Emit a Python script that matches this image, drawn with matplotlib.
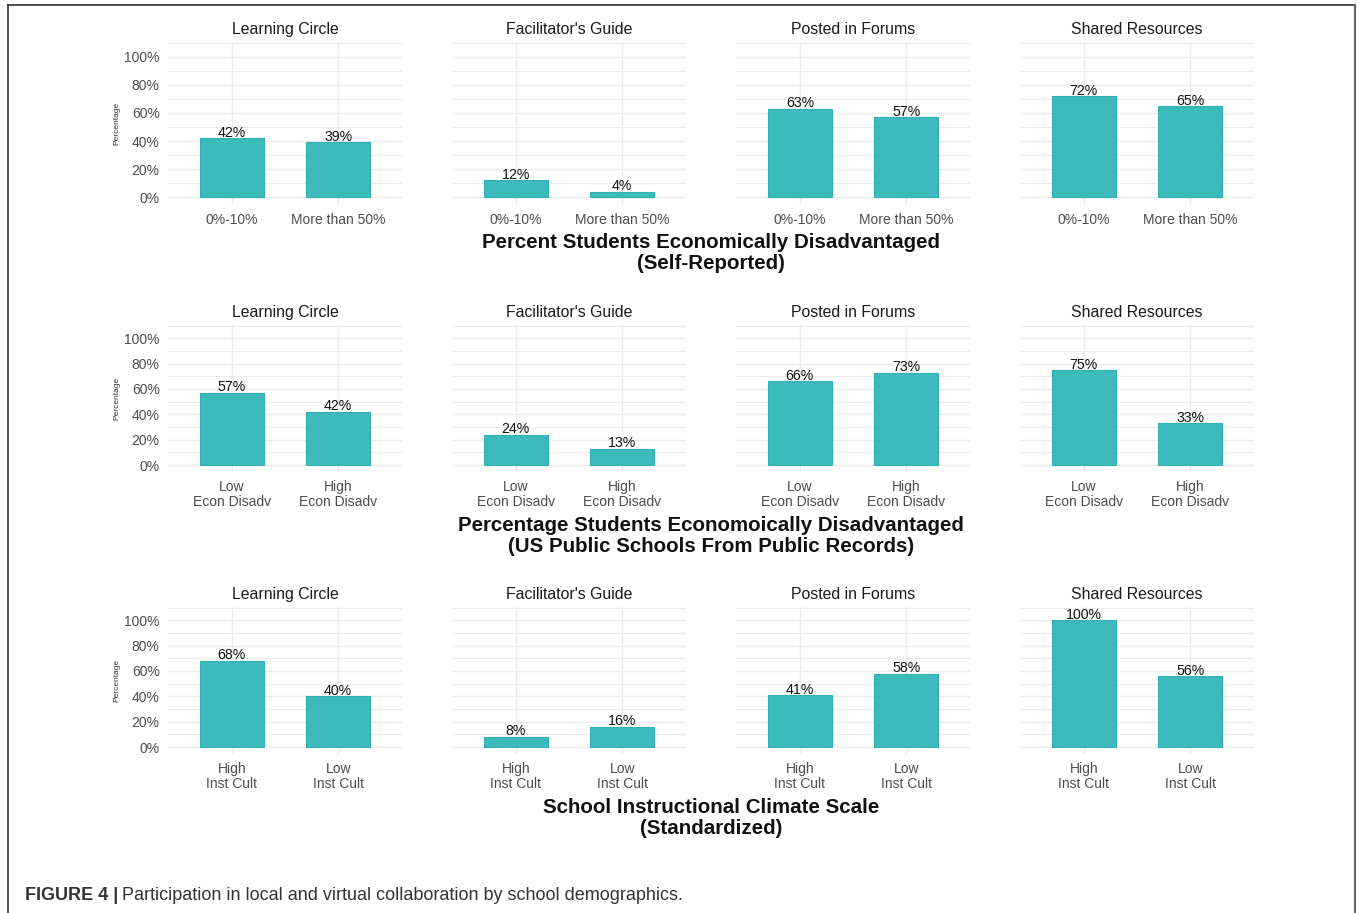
import numpy as np
import matplotlib
matplotlib.use("Agg")
import matplotlib.pyplot as plt
from matplotlib.lines import Line2D
from matplotlib.ticker import MultipleLocator, PercentFormatter

plt.rcParams['font.family'] = ['Liberation Sans', 'DejaVu Sans']

# Data (values in percent)
panels = ["Learning Circle", "Facilitator's Guide", "Posted in Forums", "Shared Resources"]

cats_self = ["0%-10%", "More than 50%"]
vals_self = [[42, 39], [12, 4], [63, 57], [72, 65]]

cats_public = ["Low\nEcon Disadv", "High\nEcon Disadv"]
vals_public = [[57, 42], [24, 13], [66, 73], [75, 33]]

cats_climate = ["High\nInst Cult", "Low\nInst Cult"]
vals_climate = [[68, 40], [8, 16], [41, 58], [100, 56]]

row_titles = ["Percent Students Economically Disadvantaged\n(Self-Reported)",
              "Percentage Students Economoically Disadvantaged\n(US Public Schools From Public Records)",
              "School Instructional Climate Scale\n(Standardized)"]

rows = [(cats_self, vals_self), (cats_public, vals_public), (cats_climate, vals_climate)]

W, H = 1357, 913
fig = plt.figure(figsize=(W / 100, H / 100), dpi=100)

bar_col = '#3DBBBC'
grid_col = '#EBEBEB'

# pixel layout of panels
col_x = [168, 452, 736, 1020]
col_w = 234
row_y = [(42, 205), (325, 472), (607, 754)]   # top, bottom in px
title_y = [253, 536, 818]

for r, (cats, vals) in enumerate(rows):
    top, bot = row_y[r]
    for c in range(4):
        ax = fig.add_axes([col_x[c] / W, 1 - bot / H, col_w / W, (bot - top) / H])
        x = np.arange(1, len(cats) + 1)
        v = np.array(vals[c]) / 100
        ax.bar(x, v, width=0.6, color=bar_col, edgecolor='#30B0B1', linewidth=0.8, zorder=3)
        for xi, vi in zip(x, v):
            ax.text(xi, vi - 0.012, f"{int(round(vi * 100))}%", ha='center', va='bottom',
                    fontsize=10.2, color='#111111', zorder=4)
        ax.set_xlim(0.4, 2.6)
        ax.set_ylim(-0.055, 1.105)
        ax.set_xticks(x)
        ax.set_xticklabels(cats, fontsize=10, color='#4D4D4D', linespacing=1.02)
        ax.yaxis.set_major_locator(MultipleLocator(0.2))
        ax.yaxis.set_minor_locator(MultipleLocator(0.1))
        ax.yaxis.set_major_formatter(PercentFormatter(1.0, decimals=0))
        ax.tick_params(length=0, which='both')
        ax.tick_params(axis='x', pad=6)
        ax.tick_params(axis='y', pad=6, labelsize=10, labelcolor='#4D4D4D')
        ax.grid(True, which='major', color=grid_col, linewidth=1.0, zorder=0)
        ax.grid(True, which='minor', axis='y', color=grid_col, linewidth=0.8, zorder=0)
        ax.set_axisbelow(True)
        for s in ax.spines.values():
            s.set_visible(False)
        ax.set_title(panels[c], fontsize=11.4, color='#1A1A1A', pad=5.5)
        if c == 0:
            ax.set_ylabel("Percentage", fontsize=6, color='#333333', labelpad=3)
        else:
            ax.set_yticklabels([])
    fig.text(711 / W, 1 - title_y[r] / H, row_titles[r], ha='center', va='center',
             fontsize=14.8, fontweight='bold', color='#111111', linespacing=1.15)

# caption
t1 = fig.text(25 / W, 1 - 895 / H, "FIGURE 4 |", ha='left', va='center',
              fontsize=13, fontweight='bold', color='#333333')
fig.canvas.draw()
bb = t1.get_window_extent()
fig.text((bb.x1 + 4) / W, 1 - 895 / H,
         "Participation in local and virtual collaboration by school demographics.",
         ha='left', va='center', fontsize=13, color='#333333')

# frame
fig.add_artist(Line2D([8 / W, 8 / W], [0, 1 - 5 / H], color='#333333', linewidth=1.2))
fig.add_artist(Line2D([8 / W, 1355 / W], [1 - 5 / H, 1 - 5 / H], color='#333333', linewidth=1.2))
fig.add_artist(Line2D([1355 / W, 1355 / W], [0, 1 - 5 / H], color='#666666', linewidth=1.5))

fig.savefig("out.png", dpi=100)
